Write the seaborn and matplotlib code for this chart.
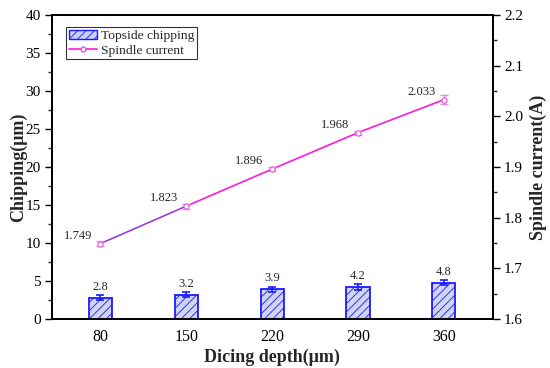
import matplotlib
matplotlib.use("Agg")
import matplotlib.pyplot as plt
import seaborn as sns
import numpy as np
import pandas as pd
from matplotlib.patches import Patch
from matplotlib.lines import Line2D
from matplotlib.ticker import MultipleLocator

sns.set_theme(style="white")
plt.rcParams['font.family'] = ['Liberation Serif', 'DejaVu Serif']
plt.rcParams['hatch.color'] = '#3333cc'
plt.rcParams['hatch.linewidth'] = 0.6

depths = ["80", "150", "220", "290", "360"]
chipping = [2.8, 3.2, 3.9, 4.2, 4.8]
chipping_err = [0.3, 0.3, 0.35, 0.35, 0.35]
current = [1.749, 1.823, 1.896, 1.968, 2.033]
current_err = [0.005, 0.005, 0.004, 0.004, 0.009]

df = pd.DataFrame({"depth": depths, "chipping": chipping, "current": current})

fig, ax = plt.subplots(figsize=(5.5, 3.68), dpi=100)
fig.subplots_adjust(left=0.0945, right=0.896, top=0.959, bottom=0.133)

sns.barplot(data=df, x="depth", y="chipping", ax=ax, width=0.27,
            color="#c8d0f8", edgecolor="#1a1aff", linewidth=1.3, hatch="////")
x = np.arange(len(depths))
ax.errorbar(x, chipping, yerr=chipping_err, fmt="none", ecolor="#1a1aff",
            elinewidth=1.2, capsize=3, capthick=1.2)
for xi, v, e in zip(x, chipping, chipping_err):
    ax.text(xi, v + e + 0.3, f"{v}", ha="center", va="bottom", fontsize=9)

ax.set_ylim(0, 40)
ax.set_xlim(-0.565, 4.57)
ax.set_yticks(range(0, 41, 5))
ax.yaxis.set_minor_locator(MultipleLocator(2.5))
ax.set_xlabel("Dicing depth(μm)", fontsize=13, fontweight="bold", labelpad=3)
ax.set_ylabel("Chipping(μm)", fontsize=13, fontweight="bold", labelpad=-1)

ax2 = ax.twinx()
line_color = "#ff1ad9"
purple = "#9a3de0"
sns.lineplot(x=x[1:], y=current[1:], ax=ax2, color=line_color, linewidth=1.2)
sns.lineplot(x=x[:2], y=current[:2], ax=ax2, color=purple, linewidth=1.2)
sns.scatterplot(x=x, y=current, ax=ax2, s=14, facecolor="white",
                edgecolor="#dd55dd", linewidth=0.8, zorder=5)
ax2.errorbar(x, current, yerr=current_err, fmt="none", ecolor="#e58ae8",
             elinewidth=1.0, capsize=3, capthick=1.0)
for xi, v, e in zip(x, current, current_err):
    ax2.text(xi - 0.1, v + 0.004, f"{v:.3f}", ha="right", va="bottom", fontsize=9)
ax2.set_ylim(1.6, 2.2)
ax2.set_yticks(np.arange(1.6, 2.21, 0.1))
ax2.set_yticklabels([f"{t:.1f}" for t in np.arange(1.6, 2.21, 0.1)])
ax2.yaxis.set_minor_locator(MultipleLocator(0.05))
ax2.set_ylabel("Spindle current(A)", fontsize=13, fontweight="bold", labelpad=5)
ax2.grid(False)
ax.grid(False)

for a in (ax, ax2):
    for s in a.spines.values():
        s.set_color("black")
        s.set_linewidth(1.3)
ax.tick_params(axis="x", bottom=False, labelsize=11.5, pad=1, colors="black")
ax.tick_params(axis="y", which="major", left=True, direction="out", length=5, width=1,
               labelsize=11, pad=3, colors="black")
ax.tick_params(axis="y", which="minor", left=True, direction="out", length=3, width=1)
ax2.tick_params(axis="y", which="major", right=True, direction="out", length=5, width=1,
                labelsize=11, pad=3, colors="black")
ax2.tick_params(axis="y", which="minor", right=True, direction="out", length=3, width=1)

handles = [Patch(facecolor="#c8d0f8", edgecolor="#1a1aff", hatch="////", linewidth=1.0),
           Line2D([0], [0], color=line_color, linewidth=1.2, marker="o", markersize=3.5,
                  markerfacecolor="white", markeredgecolor="#dd55dd")]
leg = ax.legend(handles, ["Topside chipping", "Spindle current"], loc="upper left",
                bbox_to_anchor=(0.005, 1.0), fontsize=9.7, frameon=True, fancybox=False,
                borderpad=0.2, labelspacing=0.15, handlelength=2.1, handletextpad=0.3,
                borderaxespad=0.9)
leg.get_frame().set_edgecolor("black")
leg.get_frame().set_linewidth(0.8)

fig.savefig("out.png", dpi=100)
